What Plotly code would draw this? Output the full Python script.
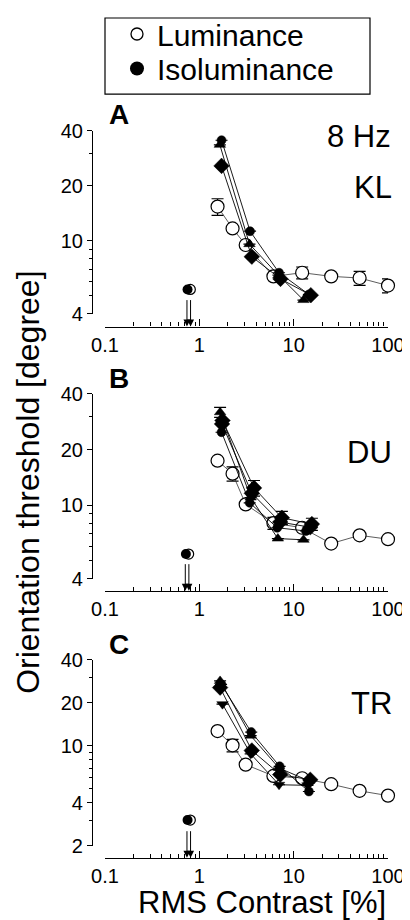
import math
import plotly.graph_objects as go

FONT = "Liberation Sans, Arial, Helvetica, sans-serif"

# ---------------- data ----------------
lum_x = [1.56, 2.25, 3.1, 6.1, 12.3, 25, 50, 100]

lum_A = [15.4, 11.7, 9.5, 6.4, 6.7, 6.4, 6.27, 5.7]
lum_A_err = [1.6, 0, 0, 0, 0.5, 0, 0.55, 0.5]
lum_B = [17.4, 14.8, 10.1, 8.0, 7.55, 6.2, 6.87, 6.55]
lum_B_err = [0, 1.3, 0, 0.6, 0, 0, 0, 0]
lum_C = [12.7, 10.1, 7.4, 6.17, 5.94, 5.4, 4.85, 4.49]
lum_C_err = [0, 1.0, 0, 0, 0, 0, 0, 0]

# isoluminance series: (symbol, x, y, err)
iso_A = [
    ("circle", [1.72, 3.45, 7.0, 14.5], [35.5, 11.3, 6.7, 5.1], [0, 0, 0, 0]),
    ("triangle-up", [1.65, 3.4, 6.9, 12.7], [33.5, 9.6, 6.5, 4.75], [0, 0, 0, 0]),
    ("diamond", [1.72, 3.6, 7.25, 15.2], [25.7, 8.2, 6.2, 5.05], [0, 0, 0, 0]),
]
iso_B = [
    ("triangle-up", [1.66, 3.5, 6.8, 12.7], [31.8, 11.0, 6.6, 6.5], [2.0, 0, 0, 0]),
    ("diamond", [1.76, 3.8, 7.5, 15.6], [28.7, 12.4, 8.55, 7.9], [0, 1.2, 0.7, 0.6]),
    ("circle", [1.72, 3.42, 6.7, 13.5], [24.8, 10.3, 7.55, 7.25], [0, 0, 0, 0]),
    ("diamond", [1.74, 3.6, 7.2, 15.0], [27.5, 11.6, 8.1, 7.6], [0, 0, 0, 0]),
]
iso_C = [
    ("triangle-up", [1.66, 3.5, 7.0, 14.5], [28.5, 11.8, 7.0, 5.7], [0, 0, 0, 0]),
    ("diamond", [1.66, 3.6, 7.2, 15.0], [25.6, 9.3, 6.3, 5.8], [0, 0, 0, 0]),
    ("triangle-down", [1.76, 3.5, 7.0, 14.0], [19.6, 8.8, 5.35, 5.3], [0, 0, 0, 0]),
    ("circle", [1.7, 3.55, 7.1, 14.5], [27.0, 12.5, 7.2, 4.8], [0, 0, 0, 0]),
]

# isoluminance detection threshold (x contrast, y threshold)
det_x = [0.75, 0.72, 0.75]
det_y = [5.43, 5.44, 3.03]

panel_letters = ["A", "B", "C"]
observers = ["KL", "DU", "TR"]
freq_label = "8 Hz"

x_ticks = [0.1, 1, 10, 100]
x_ticktext = ["0.1", "1", "10", "100"]
x_minor = [0.2, 0.3, 0.4, 0.5, 0.6, 0.7, 0.8, 0.9,
           2, 3, 4, 5, 6, 7, 8, 9, 20, 30, 40, 50, 60, 70, 80, 90]
y_ticks_AB = [4, 10, 20, 40]
y_minor_AB = [5, 6, 7, 8, 9, 30]
y_ticks_C = [2, 4, 10, 20, 40]
y_minor_C = [3, 5, 6, 7, 8, 9, 30]

# ---------------- layout geometry ----------------
# page body has an 8px margin: figure is drawn 8px right/down of the window
OFF = 8
W, H = 410 - OFF, 920 - OFF


def PX(x):
    return (x - OFF) / W


def PY(y):
    return 1 - (y - OFF) / H


x_left, x_right = 105, 388
yaxis_x = 92
# (top px, bottom px, x-axis line px, ymin)  in reference window pixels
geom = [(122, 307, 320, 4), (388, 575, 587, 4), (657, 845, 857, 2)]

fig = go.Figure()

lums = [(lum_A, lum_A_err), (lum_B, lum_B_err), (lum_C, lum_C_err)]
isos = [iso_A, iso_B, iso_C]
iso_sizes = {"circle": 9, "diamond": 12, "triangle-up": 10, "triangle-down": 10}

layout_axes = {}
annotations = []

for i in range(3):
    sfx = "" if i == 0 else str(i + 1)
    xa, ya = "x" + sfx, "y" + sfx
    top, bot, xline, ymin = geom[i]

    ly, le = lums[i]
    fig.add_trace(go.Scatter(
        x=lum_x, y=ly, mode="lines+markers", xaxis=xa, yaxis=ya,
        line=dict(color="#333333", width=0.8),
        marker=dict(symbol="circle", size=13, color="white",
                    line=dict(color="black", width=1.2)),
        error_y=dict(type="data", array=le, visible=True, color="black",
                     thickness=1.2, width=6),
        showlegend=False, cliponaxis=False, hoverinfo="x+y"))

    for sym, sx, sy, se in isos[i]:
        fig.add_trace(go.Scatter(
            x=sx, y=sy, mode="lines+markers", xaxis=xa, yaxis=ya,
            line=dict(color="black", width=0.9),
            marker=dict(symbol=sym, size=iso_sizes[sym], color="black",
                        line=dict(color="black", width=0.5)),
            error_y=dict(type="data", array=se, visible=True, color="black",
                         thickness=1.2, width=6),
            showlegend=False, cliponaxis=False, hoverinfo="x+y"))

    # detection threshold point (open behind, filled in front)
    fig.add_trace(go.Scatter(
        x=[det_x[i] * 1.07], y=[det_y[i]], mode="markers", xaxis=xa, yaxis=ya,
        marker=dict(symbol="circle", size=10, color="white",
                    line=dict(color="black", width=1.2)),
        showlegend=False, cliponaxis=False, hoverinfo="x+y"))
    fig.add_trace(go.Scatter(
        x=[det_x[i]], y=[det_y[i]], mode="markers", xaxis=xa, yaxis=ya,
        marker=dict(symbol="circle", size=10, color="black"),
        showlegend=False, cliponaxis=False, hoverinfo="x+y"))

    ydom = [PY(bot), PY(top)]
    yt = y_ticks_C if i == 2 else y_ticks_AB
    ym = y_minor_C if i == 2 else y_minor_AB
    layout_axes["xaxis" + sfx] = dict(
        type="log", range=[-1, 2], domain=[PX(x_left), PX(x_right)],
        anchor="free", position=PY(xline),
        tickvals=x_ticks, ticktext=x_ticktext, ticks="inside", ticklen=7,
        tickwidth=1.2, tickcolor="black", ticklabeloverflow="allow",
        minor=dict(tickvals=x_minor, ticks="inside", ticklen=4,
                   tickwidth=1, tickcolor="black", showgrid=False),
        showline=True, linecolor="black", linewidth=1.2,
        showgrid=False, zeroline=False, automargin=False,
        tickfont=dict(family=FONT, size=20, color="black"))
    layout_axes["yaxis" + sfx] = dict(
        type="log", range=[math.log10(ymin), math.log10(40)], domain=ydom,
        anchor="free", position=PX(yaxis_x),
        tickvals=yt, ticktext=[str(v) for v in yt], ticks="outside", ticklen=5,
        tickwidth=1.2, tickcolor="black", ticklabeloverflow="allow",
        minor=dict(tickvals=ym, ticks="outside", ticklen=3,
                   tickwidth=1, tickcolor="black", showgrid=False),
        showline=True, linecolor="black", linewidth=1.2,
        showgrid=False, zeroline=False, automargin=False,
        tickfont=dict(family=FONT, size=20, color="black"))

    # arrow pointing at detection contrast (double shaft)
    for sh in (-1.8, 1.8):
        annotations.append(dict(
            x=math.log10(det_x[i] * 1.03), y=PY(xline), xref=xa, yref="paper",
            text="", showarrow=True, arrowhead=2, arrowsize=1.4, arrowwidth=1,
            arrowcolor="black", ax=0, ay=-28, xshift=sh))

    # panel letter
    annotations.append(dict(
        x=PX(x_left + 14), y=PY(top - 16), xref="paper", yref="paper",
        text="<b>%s</b>" % panel_letters[i], showarrow=False,
        font=dict(family=FONT, size=28, color="black"),
        xanchor="center", yanchor="middle"))
    # observer label
    obs_y = [179, 447, 701][i]
    annotations.append(dict(
        x=PX(394), y=PY(obs_y), xref="paper", yref="paper",
        text=observers[i], showarrow=False,
        font=dict(family=FONT, size=31, color="black"),
        xanchor="right", yanchor="middle"))

annotations.append(dict(
    x=PX(393), y=PY(128), xref="paper", yref="paper", text=freq_label,
    showarrow=False, font=dict(family=FONT, size=31, color="black"),
    xanchor="right", yanchor="middle"))

# axis titles
annotations.append(dict(
    x=PX(28), y=PY(478), xref="paper", yref="paper",
    text="Orientation threshold [degree]", textangle=-90, showarrow=False,
    font=dict(family=FONT, size=32, color="black"),
    xanchor="center", yanchor="middle"))
annotations.append(dict(
    x=PX(262), y=PY(902), xref="paper", yref="paper",
    text="RMS Contrast [%]", showarrow=False,
    font=dict(family=FONT, size=31, color="black"),
    xanchor="center", yanchor="middle"))

# legend entries (two single-item legends for tight spacing)
fig.add_trace(go.Scatter(
    x=[None], y=[None], mode="markers", name="Luminance", legend="legend",
    marker=dict(symbol="circle", size=12, color="white",
                line=dict(color="black", width=1.3))))
fig.add_trace(go.Scatter(
    x=[None], y=[None], mode="markers", name="Isoluminance", legend="legend2",
    marker=dict(symbol="circle", size=14, color="black")))

leg_common = dict(xanchor="left", yanchor="middle", bgcolor="rgba(0,0,0,0)",
                  borderwidth=0, font=dict(family=FONT, size=30, color="black"),
                  itemwidth=30)

fig.update_layout(
    width=W, height=H, autosize=False,
    margin=dict(l=0, r=0, t=0, b=0),
    paper_bgcolor="white", plot_bgcolor="white",
    showlegend=True,
    legend=dict(x=PX(117), y=PY(24), **leg_common),
    legend2=dict(x=PX(117), y=PY(59), **leg_common),
    shapes=[dict(type="rect", xref="paper", yref="paper",
                 x0=PX(105), x1=PX(370), y0=PY(85), y1=PY(8),
                 line=dict(color="black", width=1.2), fillcolor="rgba(0,0,0,0)")],
    annotations=annotations,
    **layout_axes)

fig.write_html("out.html")
